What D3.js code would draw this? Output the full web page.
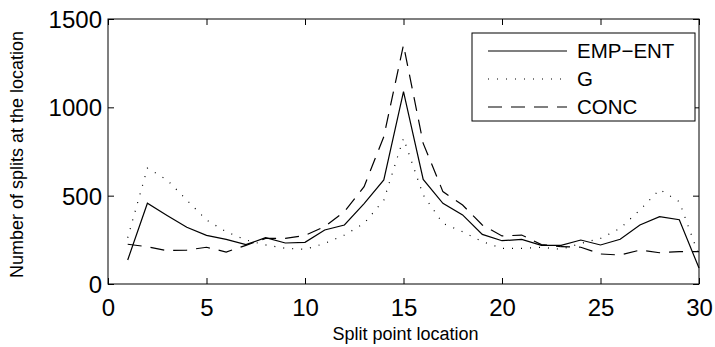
<!DOCTYPE html>
<html>
<head>
<meta charset="utf-8">
<script src="https://cdn.jsdelivr.net/npm/d3@7"></script>
<style>
  body { margin: 0; background: #fff; }
  text { font-family: "Liberation Sans", Arial, sans-serif; }
</style>
</head>
<body>
<div id="chart"></div>
<script>
// data
const positions = d3.range(1, 31);
const empEnt = [136, 457, 388, 321, 275, 253, 223, 262, 232, 236, 306, 334, 455, 589, 1089,
                592, 457, 391, 281, 245, 253, 219, 219, 249, 221, 253, 334, 381, 364, 90];
const gVals  = [262, 656, 589, 475, 362, 296, 249, 221, 202, 196, 230, 277, 343, 475, 825,
                504, 343, 296, 240, 202, 202, 208, 196, 230, 258, 315, 419, 535, 466, 160];
const conc   = [225, 211, 189, 192, 208, 181, 219, 258, 258, 275, 325, 409, 551, 834, 1353,
                796, 523, 447, 334, 272, 277, 223, 211, 208, 170, 164, 192, 177, 183, 183];
const xTicks = [0, 5, 10, 15, 20, 25, 30];
const yTicks = [0, 500, 1000, 1500];

const series = [
  {name: "EMP\u2212ENT", values: empEnt, dash: null},
  {name: "G", values: gVals, dash: "1,8"},
  {name: "CONC", values: conc, dash: "14,9"}
];

const W = 715, H = 347;
const margin = {top: 19, right: 16, bottom: 63, left: 108};
const width = W - margin.left - margin.right;
const height = H - margin.top - margin.bottom;

const svg = d3.select("#chart").append("svg")
  .attr("width", W).attr("height", H);

const g = svg.append("g")
  .attr("transform", `translate(${margin.left},${margin.top})`);

const x = d3.scaleLinear().domain([0, 30]).range([0, width]);
const y = d3.scaleLinear().domain([0, 1500]).range([height, 0]);

// axes (ticks pointing inward, MATLAB style)
const tk = 6;
const fmt = d3.format("d");
const axBottom = g.append("g").attr("transform", `translate(0,${height})`)
  .call(d3.axisBottom(x).tickValues(xTicks).tickSize(-tk).tickPadding(15).tickFormat(fmt));
const axTop = g.append("g")
  .call(d3.axisTop(x).tickValues(xTicks).tickSize(-tk).tickFormat(""));
const axLeft = g.append("g")
  .call(d3.axisLeft(y).tickValues(yTicks).tickSize(-tk).tickPadding(6).tickFormat(fmt));
const axRight = g.append("g").attr("transform", `translate(${width},0)`)
  .call(d3.axisRight(y).tickValues(yTicks).tickSize(-tk).tickFormat(""));

[axBottom, axTop, axLeft, axRight].forEach(a => {
  a.select(".domain").remove();
  a.selectAll("line").attr("stroke", "#000").attr("stroke-width", 1);
  a.selectAll("text").attr("fill", "#000").style("font-size", "24px");
});
axLeft.selectAll("text").attr("dy", "0.36em");

g.append("rect")
  .attr("width", width).attr("height", height)
  .attr("fill", "none").attr("stroke", "#000").attr("stroke-width", 1);

// lines
const line = d3.line()
  .x((d, i) => x(positions[i]))
  .y(d => y(d));

series.forEach(s => {
  g.append("path")
    .datum(s.values)
    .attr("fill", "none")
    .attr("stroke", "#000")
    .attr("stroke-width", 1.2)
    .attr("stroke-dasharray", s.dash)
    .attr("d", line);
});

// legend
const lg = svg.append("g").attr("transform", "translate(472,33)");
lg.append("rect")
  .attr("width", 223).attr("height", 88)
  .attr("fill", "#fff").attr("stroke", "#000").attr("stroke-width", 1);
series.forEach((s, i) => {
  const yy = 18 + i * 28;
  lg.append("line")
    .attr("x1", 16).attr("x2", 95).attr("y1", yy).attr("y2", yy)
    .attr("stroke", "#000").attr("stroke-width", 1.2)
    .attr("stroke-dasharray", s.dash);
  lg.append("text")
    .attr("x", 105).attr("y", yy).attr("dy", "0.36em")
    .style("font-size", "20.5px")
    .text(s.name);
});

// labels
svg.append("text")
  .attr("x", margin.left + width / 2 + 2).attr("y", 340)
  .attr("text-anchor", "middle")
  .style("font-size", "18px")
  .text("Split point location");

svg.append("text")
  .attr("transform", `translate(23,${margin.top + height / 2 + 3}) rotate(-90)`)
  .attr("text-anchor", "middle")
  .style("font-size", "18px")
  .text("Number of splits at the location");
</script>
</body>
</html>
